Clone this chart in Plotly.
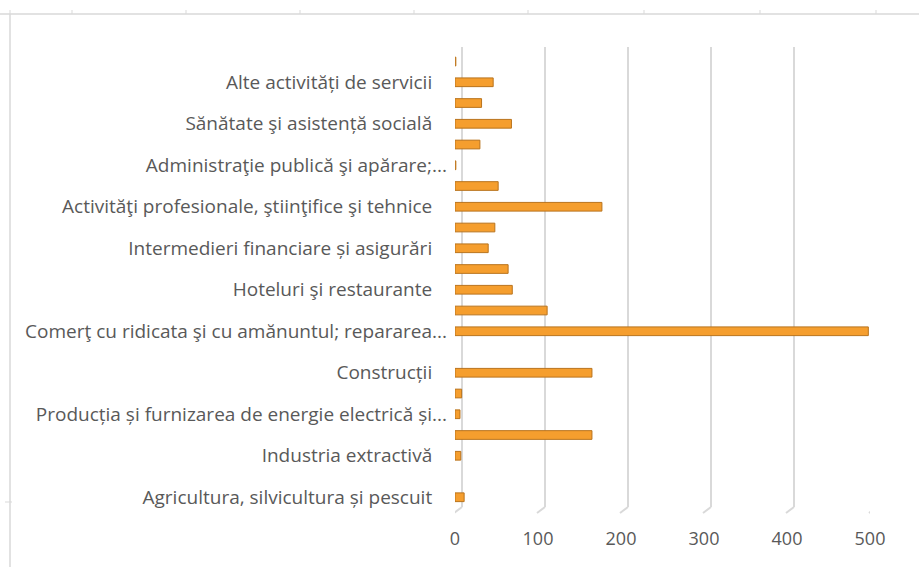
import plotly.graph_objects as go

# Sectors, bottom to top; only every other row carries a visible label.
# Full names keep a short trailing gap, truncated names run up to the axis.
labels = [
    "Agricultura, silvicultura și pescuit   ",
    "",
    "Industria extractivă   ",
    "",
    "Producția și furnizarea de energie electrică și...",
    "",
    "Construcții   ",
    "",
    "Comerţ cu ridicata şi cu amănuntul; repararea...",
    "",
    "Hoteluri şi restaurante   ",
    "",
    "Intermedieri financiare și asigurări   ",
    "",
    "Activităţi profesionale, ştiinţifice şi tehnice   ",
    "",
    "Administraţie publică şi apărare;...",
    "",
    "Sănătate şi asistență socială   ",
    "",
    "Alte activități de servicii   ",
    "",
]
values = [11, 0, 7, 165, 6, 8, 165, 0, 498, 111, 69, 64, 40, 48,
          177, 52, 1, 30, 68, 32, 46, 1]
x_ticks = [0, 100, 200, 300, 400, 500]

positions = list(range(len(values)))

GRID = "#D9D9D9"
TEXT = "#595959"
FONT = "Open Sans"

fig = go.Figure()
fig.add_trace(go.Bar(
    x=values,
    y=positions,
    orientation="h",
    width=0.42,
    marker=dict(color="#F59E2E",
                line=dict(color="#B9731C",
                          width=[1 if v > 0 else 0 for v in values])),
    hoverinfo="x",
))

shapes = []
# back-wall gridlines with a short diagonal foot
for v in x_ticks:
    shapes.append(dict(type="line", xref="x", yref="paper",
                       xsizemode="pixel", xanchor=v, x0=7, x1=7,
                       ysizemode="pixel", yanchor=0, y0=11, y1=471,
                       line=dict(color=GRID, width=2), layer="below"))
    shapes.append(dict(type="line", xref="x", yref="paper",
                       xsizemode="pixel", xanchor=v, x0=7, x1=-1,
                       ysizemode="pixel", yanchor=0, y0=11, y1=5,
                       line=dict(color=GRID, width=2), layer="below"))

# frame of the chart area: top edge with small ticks and left edge
shapes.append(dict(type="line", xref="paper", yref="paper",
                   x0=-455 / 415, x1=464 / 415, y0=(518 - 14) / 471, y1=(518 - 14) / 471,
                   line=dict(color=GRID, width=1.5)))
shapes.append(dict(type="line", xref="paper", yref="paper",
                   x0=-445 / 415, x1=-445 / 415, y0=(518 - 14) / 471, y1=-49 / 471,
                   line=dict(color=GRID, width=1.5)))
for px in [10, 72, 186, 300, 414, 528, 644, 760, 876]:
    xp = (px - 455) / 415
    shapes.append(dict(type="line", xref="paper", yref="paper",
                       x0=xp, x1=xp, y0=(518 - 14) / 471, y1=(518 - 10) / 471,
                       line=dict(color=GRID, width=1)))
shapes.append(dict(type="line", xref="paper", yref="paper",
                   x0=-450 / 415, x1=-443 / 415, y0=(518 - 502) / 471, y1=(518 - 502) / 471,
                   line=dict(color=GRID, width=1)))

fig.update_layout(
    width=919,
    height=567,
    margin=dict(l=455, r=49, t=47, b=49),
    paper_bgcolor="white",
    plot_bgcolor="white",
    showlegend=False,
    font=dict(family=FONT, color=TEXT, size=19),
    shapes=shapes,
    xaxis=dict(
        range=[0, 500],
        tickvals=x_ticks,
        showgrid=False,
        zeroline=False,
        showline=False,
        ticks="",
        ticklabelstandoff=8,
        tickfont=dict(family=FONT, size=18, color=TEXT),
        fixedrange=True,
    ),
    yaxis=dict(
        range=[-1.0, 21.7],
        tickvals=positions,
        ticktext=labels,
        showgrid=False,
        zeroline=False,
        showline=False,
        ticks="",
        ticklabelstandoff=7,
        tickfont=dict(family=FONT, size=19, color=TEXT),
        fixedrange=True,
    ),
)

fig.write_html("out.html")
